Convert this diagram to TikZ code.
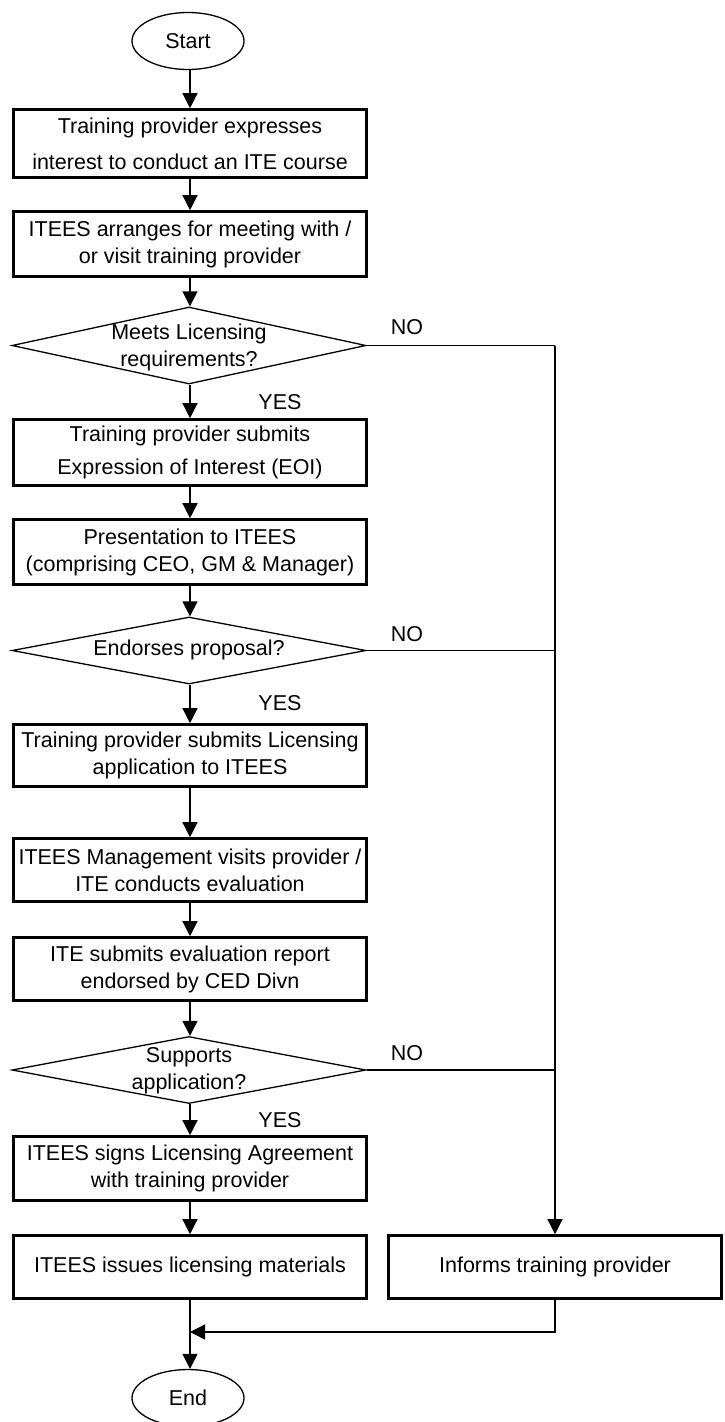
\documentclass[tikz,border=0pt]{standalone}
\usepackage{fontspec}
\setmainfont{Liberation Sans}
\usetikzlibrary{shapes.geometric,arrows.meta}
\tikzset{
  base/.style={font=\fontsize{21.5pt}{27pt}\selectfont, align=center, inner sep=0pt},
  procbox/.style={base, draw, rectangle, line width=2.6pt, minimum width=353pt},
  termnode/.style={base, draw, ellipse, line width=1.3pt, minimum width=112pt, minimum height=57pt},
  decision/.style={draw, diamond, line width=1.3pt, inner sep=0pt, minimum width=354pt},
  dectext/.style={base},
  lbl/.style={font=\fontsize{21.5pt}{26pt}\selectfont, inner sep=0pt},
  conn/.style={line width=1.3pt},
  arr/.style={conn, -{Triangle[width=15pt,length=15pt]}}
}
\begin{document}
\begin{tikzpicture}[x=1pt,y=-1pt]
\useasboundingbox (0,0) rectangle (725,1422);

\node[termnode] (start) at (188,41) {Start};
\node[procbox, minimum height=68pt, font=\fontsize{21.5pt}{36pt}\selectfont] (b1) at (190,143.5) {Training provider expresses\\interest to conduct an ITE course};
\node[procbox, minimum height=65pt] (b2) at (190,244) {ITEES arranges for meeting with /\\or visit training provider};
\node[decision, minimum height=77pt] (d1) at (189,345.5) {};
\node[dectext] (d1t) at (189,347) {Meets Licensing\\requirements?};
\node[procbox, minimum height=66pt, font=\fontsize{21.5pt}{33pt}\selectfont] (b3) at (190,452.5) {Training provider submits\\Expression of Interest (EOI)};
\node[procbox, minimum height=65pt] (b4) at (190,552) {Presentation to ITEES\\(comprising CEO, GM \& Manager)};
\node[decision, minimum height=67pt] (d2) at (189,650.5) {};
\node[dectext] (d2t) at (189,650) {Endorses proposal?};
\node[procbox, minimum height=62pt] (b5) at (190,755.5) {Training provider submits Licensing\\application to ITEES};
\node[procbox, minimum height=63pt] (b6) at (190,870) {ITEES Management visits provider /\\ITE conducts evaluation};
\node[procbox, minimum height=63pt] (b7) at (190,969) {ITE submits evaluation report\\endorsed by CED Divn};
\node[decision, minimum height=67pt] (d3) at (189,1070) {};
\node[dectext] (d3t) at (189,1071) {Supports\\application?};
\node[procbox, minimum height=64pt] (b8) at (190,1168.5) {ITEES signs Licensing Agreement\\with training provider};
\node[procbox, minimum height=63pt] (b9) at (190,1267) {ITEES issues licensing materials};
\node[procbox, minimum width=333pt, minimum height=63pt] (inf) at (555,1267) {Informs training provider};
\node[termnode] (endn) at (188,1398) {End};

\node[lbl] (y1) at (280,402) {YES};
\node[lbl] (y2) at (280,703) {YES};
\node[lbl] (y3) at (280,1120) {YES};
\node[lbl] (n1) at (407,327) {NO};
\node[lbl] (n2) at (407,634) {NO};
\node[lbl] (n3) at (407,1053) {NO};

\coordinate (j1) at (inf.north |- d1.east);
\coordinate (j2) at (inf.north |- d2.east);
\coordinate (j3) at (inf.north |- d3.east);
\coordinate (m1) at (555,1332);
\coordinate (m2) at (190,1332);

\draw[arr] (b1.north |- start.south) -- (b1);
\draw[arr] (b1) -- (b2);
\draw[arr] (b2) -- (b2.south |- d1.north);
\draw[arr] (b3.north |- d1.south) -- (b3);
\draw[arr] (b3) -- (b4);
\draw[arr] (b4) -- (b4.south |- d2.north);
\draw[arr] (b5.north |- d2.south) -- (b5);
\draw[arr] (b5) -- (b6);
\draw[arr] (b6) -- (b7);
\draw[arr] (b7) -- (b7.south |- d3.north);
\draw[arr] (b8.north |- d3.south) -- (b8);
\draw[arr] (b8) -- (b9);
\draw[conn] (d1.east) -- (j1);
\draw[conn] (d2.east) -- (j2);
\draw[conn] (d3.east) -- (j3);
\draw[arr] (j1) -- (inf.north);
\draw[arr] (inf.south) -- (m1) -- (m2);
\draw[arr] (b9.south) -- (b9.south |- endn.north);
\end{tikzpicture}
\end{document}
